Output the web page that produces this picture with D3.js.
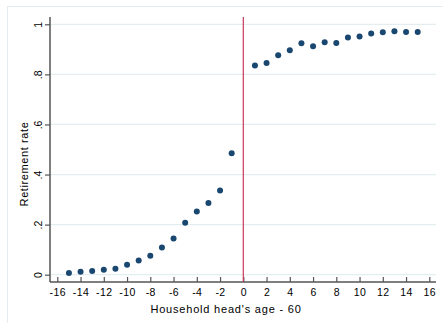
<!DOCTYPE html>
<html>
<head>
<meta charset="utf-8">
<script src="https://cdn.jsdelivr.net/npm/d3@7"></script>
<style>
  body { margin: 0; background: #fff; }
  svg { display: block; font-family: "Liberation Sans", Arial, sans-serif; }
</style>
</head>
<body>
<div id="chart"></div>
<script>
// age relative to 60, and share of household heads retired
const ages = [-15, -14, -13, -12, -11, -10, -9, -8, -7, -6, -5, -4, -3, -2, -1,
              1, 2, 3, 4, 5, 6, 7, 8, 9, 10, 11, 12, 13, 14, 15];
const rates = [0.007, 0.012, 0.015, 0.020, 0.024, 0.040, 0.057, 0.076, 0.109, 0.145,
               0.207, 0.252, 0.286, 0.336, 0.485,
               0.835, 0.845, 0.876, 0.896, 0.924, 0.912, 0.928, 0.925, 0.947, 0.951,
               0.963, 0.968, 0.972, 0.969, 0.969];
const xTicks = d3.range(-16, 17, 2);
const yTicks = [0, 0.2, 0.4, 0.6, 0.8, 1];
const yTickLabels = ["0", ".2", ".4", ".6", ".8", "1"];

const width = 443, height = 323;
const plot = {left: 50, right: 436, top: 17, bottom: 282};

const svg = d3.select("#chart").append("svg")
    .attr("width", width)
    .attr("height", height);

// outer graph frame
svg.append("rect")
    .attr("x", 7.5).attr("y", 6.5)
    .attr("width", width).attr("height", height)
    .attr("fill", "none")
    .attr("stroke", "#e3ecee");

const x = d3.scaleLinear().domain([-16, 16]).range([57.3, 429.3]);
const y = d3.scaleLinear().domain([0, 1]).range([274.7, 24.3]);

// gridlines
svg.append("g").selectAll("line")
    .data(yTicks)
    .enter().append("line")
    .attr("x1", plot.left).attr("x2", plot.right)
    .attr("y1", d => y(d)).attr("y2", d => y(d))
    .attr("stroke", "#e4eef0")
    .attr("stroke-width", 1.2);

// y axis
const yAxis = d3.axisLeft(y).tickValues(yTicks)
    .tickFormat((d, i) => yTickLabels[i])
    .tickSize(5).tickPadding(3).tickSizeOuter(0);
const gy = svg.append("g")
    .attr("transform", "translate(" + plot.left + ",0)")
    .call(yAxis);
gy.select(".domain").attr("d", `M0,${plot.top}V${plot.bottom}`);
gy.selectAll("text")
    .attr("transform", "rotate(-90,-8,0)")
    .attr("x", -8).attr("y", 0).attr("dy", 0)
    .style("text-anchor", "middle")
    .style("font-size", "10.5px");

// x axis
const xAxis = d3.axisBottom(x).tickValues(xTicks)
    .tickFormat(d => d < 0 ? "-" + Math.abs(d) : d)
    .tickSize(5).tickPadding(2).tickSizeOuter(0);
const gx = svg.append("g")
    .attr("transform", "translate(0," + plot.bottom + ")")
    .call(xAxis);
gx.select(".domain").attr("d", `M${plot.left},0H${plot.right}`);
gx.selectAll("text").style("font-size", "10.5px").attr("letter-spacing", "0.5px");

svg.selectAll(".domain").attr("stroke", "#555").attr("stroke-width", 1.5);
svg.selectAll(".tick line").attr("stroke", "#555").attr("stroke-width", 1.2);
svg.selectAll(".tick text").attr("fill", "#000");
gy.selectAll(".tick line").attr("x2", -5);
gx.selectAll(".tick line").attr("y1", 0).attr("y2", -5);

// cutoff at 60
svg.append("line")
    .attr("x1", x(0)).attr("x2", x(0))
    .attr("y1", plot.top).attr("y2", plot.bottom)
    .attr("stroke", "#c8385c")
    .attr("stroke-width", 1.2);

// points
svg.append("g").selectAll("circle")
    .data(ages.map((a, i) => ({age: a, rate: rates[i]})))
    .enter().append("circle")
    .attr("cx", d => x(d.age))
    .attr("cy", d => y(d.rate))
    .attr("r", 3)
    .attr("fill", "#1a476f");

// titles
svg.append("text")
    .attr("x", 226).attr("y", 313)
    .attr("text-anchor", "middle")
    .style("font-size", "11px")
    .attr("letter-spacing", "0.8px")
    .text("Household head's age - 60");

svg.append("text")
    .attr("transform", "translate(28,164) rotate(-90)")
    .attr("text-anchor", "middle")
    .style("font-size", "11px")
    .attr("letter-spacing", "0.6px")
    .text("Retirement rate");
</script>
</body>
</html>
